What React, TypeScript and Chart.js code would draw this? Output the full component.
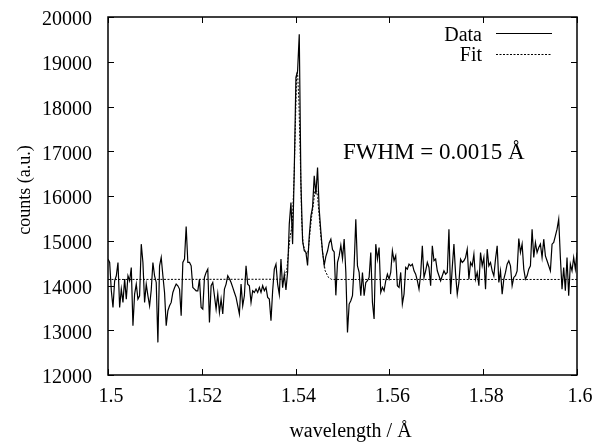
import { useEffect, useRef } from "react";
import { Chart, registerables } from "chart.js";

Chart.register(...registerables);

// Sampling grid of the measured spectrum (Å)
const WAVELENGTH_START = 1.5;
const WAVELENGTH_END = 1.6;

// Measured counts, evenly spaced between WAVELENGTH_START and WAVELENGTH_END
const counts = [
  14589, 14515, 13882, 13510, 14106, 14217, 14515, 13510, 13920, 13622,
  14143, 13696, 14217, 14106, 14403, 13101, 13808, 14031, 13696, 13771,
  14924, 14515, 13622, 14031, 13771, 13548, 13900, 14515, 14217, 14068,
  12729, 14440, 14626, 14217, 13845, 13101, 13436, 13548, 13622, 13845,
  13950, 14031, 13994, 13920, 13324, 14515, 14589, 15318, 14515, 14515,
  14440, 13957, 13920, 13882, 13882, 14143, 13510, 13473, 14180, 14292,
  14366, 13176, 13994, 14068, 13771, 13473, 13808, 13399, 13696, 13362,
  13920, 14031, 14217, 14150,
  14068, 13957, 13845, 13734, 13548, 13362, 14031, 13548, 13771, 14440,
  14031, 13994, 13622, 13882, 13845, 13920, 13845, 13957, 13845, 13994,
  13882, 13957, 13734, 13696, 13213, 13882, 14366, 14478, 14031, 13800,
  14589, 13950, 14250, 13900, 14300, 15371, 15855, 14925, 16562, 18650,
  18790, 19612, 16300, 15000, 14776, 14740, 14450, 15100, 15550, 15750,
  16450, 16040, 16636, 15700, 15200, 14750, 14450, 14650, 14770, 14950,
  15036, 14800, 14750, 13780, 14515, 14660,
  14900, 14600, 15036, 14300, 12952, 13585, 13659, 13771, 14440, 15482,
  14440, 14292, 13771, 14292, 13771, 14068, 14106, 14180, 14738, 13622,
  13250, 14924, 14589, 14850, 13845, 13957, 13882, 14106, 14254, 14143,
  14292, 14775, 14552, 14664, 13994, 13957, 14292, 13585, 13808, 14403,
  14366, 14478, 14440, 14478, 14329, 14254, 14106, 13920, 14254, 14887,
  14180, 14329, 14515, 14403, 13994, 14887, 14552, 14589, 14329, 14217,
  14106, 14217, 14329, 14254, 14292, 15259, 13808, 14403, 14924, 14254,
  13808, 14068, 14589, 14515, 14552, 14626, 14812, 14143,
  14514, 14440, 14700, 14142, 14291, 13994, 14738, 14440, 14626, 13919,
  14812, 14440, 14514, 14328, 14217, 14589, 14886, 14068, 14328, 13808,
  14142, 14291, 14477, 14552, 14440, 13994, 14180, 14217, 14328, 15050,
  14738, 14924, 14366, 14142, 14217, 14366, 14440, 15258, 14626, 14961,
  14738, 14849, 14924, 14626, 15035, 14663, 14552, 14440, 14328, 14924,
  14961, 15110, 15258, 15482, 14626, 13919, 14403, 13882, 14626, 13770,
  14477, 14328, 14626, 14366, 14738,
];

// Fitted profile (baseline plus the two lines)
const fitWavelength = [
  1.5, 1.5374, 1.5381, 1.5388, 1.5393, 1.5397, 1.5402, 1.5404, 1.5407, 1.541,
  1.5413, 1.5416, 1.542, 1.5424, 1.5427, 1.5431, 1.5434, 1.5438, 1.5441, 1.5445,
  1.5447, 1.545, 1.5454, 1.5459, 1.5463, 1.547, 1.5477, 1.6,
];
const fitCounts = [
  14135, 14140, 14330, 15074, 15370, 16490, 18645, 18793, 18124, 16859,
  15445, 14925, 14776, 14702, 14776, 15222, 15520, 15817, 16115, 16115,
  15966, 15594, 15074, 14627, 14330, 14181, 14135, 14135,
];

const xTicks = [1.5, 1.52, 1.54, 1.56, 1.58, 1.6];
const yTicks = [12000, 13000, 14000, 15000, 16000, 17000, 18000, 19000, 20000];
const seriesNames = ["Data", "Fit"];
const xTitle = "wavelength / Å";
const yTitle = "counts (a.u.)";
const fwhmLabel = "FWHM = 0.0015 Å";

const SERIF = "'Liberation Serif', 'Times New Roman', serif";
const FIT_DASH = [2, 1.5];

const framePlugin = {
  id: "gnuplotFrame",
  afterDraw(chart: any) {
    const { ctx, chartArea } = chart;
    const { left, right, top, bottom } = chartArea;
    const xs = chart.scales.x;
    const ys = chart.scales.y;
    const tick = 6;
    ctx.save();
    ctx.strokeStyle = "#000";
    ctx.lineWidth = 1.5;
    ctx.strokeRect(left, top, right - left, bottom - top);

    ctx.lineWidth = 1;
    ctx.beginPath();
    xTicks.forEach((v) => {
      const px = Math.round(xs.getPixelForValue(v)) + 0.5;
      ctx.moveTo(px, bottom);
      ctx.lineTo(px, bottom - tick);
      ctx.moveTo(px, top);
      ctx.lineTo(px, top + tick);
    });
    yTicks.forEach((v) => {
      const py = Math.round(ys.getPixelForValue(v)) + 0.5;
      ctx.moveTo(left, py);
      ctx.lineTo(left + tick, py);
      ctx.moveTo(right, py);
      ctx.lineTo(right - tick, py);
    });
    ctx.stroke();

    // key, top right inside the frame
    ctx.fillStyle = "#000";
    ctx.font = `20px ${SERIF}`;
    ctx.textAlign = "right";
    ctx.textBaseline = "alphabetic";
    const keyTextRight = right - 95;
    const sampleX0 = right - 81;
    const sampleX1 = right - 25;
    ctx.fillText(seriesNames[0], keyTextRight, top + 23.5);
    ctx.fillText(seriesNames[1], keyTextRight, top + 44);
    ctx.lineWidth = 1.2;
    ctx.beginPath();
    ctx.moveTo(sampleX0, top + 16.5);
    ctx.lineTo(sampleX1, top + 16.5);
    ctx.stroke();
    ctx.lineWidth = 1;
    ctx.setLineDash(FIT_DASH);
    ctx.beginPath();
    ctx.moveTo(sampleX0, top + 37.5);
    ctx.lineTo(sampleX1, top + 37.5);
    ctx.stroke();
    ctx.setLineDash([]);

    // line width annotation
    ctx.font = `23px ${SERIF}`;
    ctx.textAlign = "left";
    ctx.fillText(fwhmLabel, left + 235, top + 141.5);

    // axis titles
    ctx.font = `20px ${SERIF}`;
    ctx.textAlign = "center";
    ctx.fillText(xTitle, (left + right) / 2 + 8, bottom + 61.5);

    ctx.font = `18px ${SERIF}`;
    ctx.translate(30, (top + bottom) / 2 - 6);
    ctx.rotate(-Math.PI / 2);
    ctx.fillText(yTitle, 0, 0);
    ctx.restore();
  },
};

export default function App() {
  const canvasRef = useRef<HTMLCanvasElement | null>(null);

  useEffect(() => {
    const canvas = canvasRef.current;
    if (!canvas) return;
    const step = (WAVELENGTH_END - WAVELENGTH_START) / (counts.length - 1);
    const dataPoints = counts.map((c, i) => ({ x: WAVELENGTH_START + i * step, y: c }));
    const fitPoints = fitWavelength.map((w, i) => ({ x: w, y: fitCounts[i] }));

    const chart = new Chart(canvas, {
      type: "line",
      data: {
        datasets: [
          {
            label: seriesNames[0],
            data: dataPoints,
            borderColor: "#000",
            borderWidth: 1.2,
            pointRadius: 0,
            tension: 0,
            fill: false,
          },
          {
            label: seriesNames[1],
            data: fitPoints,
            borderColor: "#000",
            borderWidth: 1,
            borderDash: FIT_DASH,
            pointRadius: 0,
            tension: 0,
            fill: false,
          },
        ],
      },
      options: {
        animation: false,
        responsive: false,
        maintainAspectRatio: false,
        devicePixelRatio: 1,
        layout: { padding: { top: 17, right: 18, left: 0, bottom: 0 } },
        plugins: {
          legend: { display: false },
          tooltip: { enabled: false },
        },
        scales: {
          x: {
            type: "linear",
            min: 1.5,
            max: 1.6,
            grid: { display: false, drawTicks: false },
            border: { display: false },
            afterBuildTicks: (s: any) => {
              s.ticks = xTicks.map((v) => ({ value: v }));
            },
            afterFit: (s: any) => {
              s.height = 68;
              s.paddingLeft = 0;
              s.paddingRight = 0;
              s.paddingTop = 0;
              s.paddingBottom = 0;
            },
            ticks: {
              color: "#000",
              font: { family: SERIF, size: 20 },
              padding: 10,
              labelOffset: 3,
              maxRotation: 0,
              autoSkip: false,
              callback: (v: any) => String(parseFloat(Number(v).toFixed(2))),
            },
          },
          y: {
            type: "linear",
            min: 12000,
            max: 20000,
            grid: { display: false, drawTicks: false },
            border: { display: false },
            afterBuildTicks: (s: any) => {
              s.ticks = yTicks.map((v) => ({ value: v }));
            },
            afterFit: (s: any) => {
              s.width = 108;
              s.paddingLeft = 0;
              s.paddingRight = 0;
              s.paddingTop = 0;
              s.paddingBottom = 0;
            },
            ticks: {
              color: "#000",
              font: { family: SERIF, size: 20 },
              padding: 16,
              labelOffset: 3,
              autoSkip: false,
              callback: (v: any) => String(v),
            },
          },
        },
      },
      plugins: [framePlugin],
    });
    return () => chart.destroy();
  }, []);

  return (
    <div style={{ position: "fixed", left: 0, top: 0, width: 595, height: 443, background: "#fff" }}>
      <canvas ref={canvasRef} width={595} height={443} style={{ display: "block" }} />
    </div>
  );
}
